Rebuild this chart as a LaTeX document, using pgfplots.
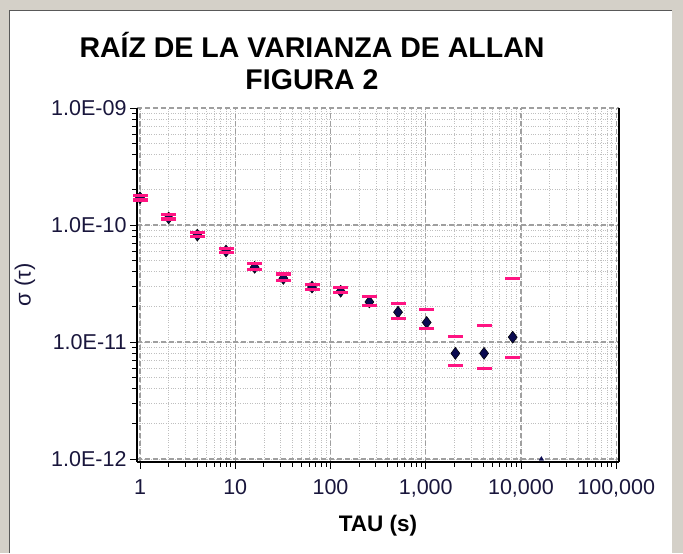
\documentclass[border=0pt]{standalone}
\usepackage{pgfplots}
\pgfplotsset{compat=1.18}
\usepackage{fontspec}
\setmainfont{Liberation Sans}
\definecolor{navy}{RGB}{10,10,80}
\definecolor{labcol}{RGB}{25,22,60}
\definecolor{pinkbar}{RGB}{255,20,130}
\definecolor{winbg}{RGB}{212,208,200}
\begin{document}
\begin{tikzpicture}
\fill[winbg] (0pt,0pt) rectangle (683pt,-553pt);
\fill[white] (9pt,-11pt) rectangle (672pt,-553pt);
\draw[gray!70!black,line width=1pt] (9pt,-553pt) -- (9pt,-11pt) -- (672pt,-11pt);
\path[use as bounding box] (0pt,0pt) rectangle (683pt,-553pt);
\node[font=\fontsize{28.5}{32}\selectfont\bfseries, align=center] at (312pt,-61pt) {RAÍZ DE LA VARIANZA DE ALLAN\\FIGURA 2};
\node[font=\fontsize{22}{24}\selectfont, rotate=90, text=labcol] at (25pt,-285pt) {σ (τ)};
\begin{axis}[
  name=ax,
  at={(137pt,-462pt)}, anchor=south west, scale only axis,
  width=482pt, height=354pt,
  xmode=log, ymode=log,
  xmin=0.93, xmax=107000, ymin=0.943e-12, ymax=1e-9,
  axis x line*=bottom, axis y line*=left,
  axis line style={black, line width=1.5pt, -},
  tick align=outside,
  major tick length=7pt, minor tick length=5pt,
  tick style={black, line width=0.9pt},
  xtick={1,10,100,1000,10000,100000},
  xticklabels={1,10,100,{1,000},{10,000},{100,000}},
  ytick={1e-12,1e-11,1e-10,1e-9},
  yticklabels={1.0E-12,1.0E-11,1.0E-10,1.0E-09},
  ticklabel style={font=\fontsize{21.5}{24}\selectfont, text=labcol},
  xticklabel style={yshift=-7pt},
  grid=both,
  major grid style={dash pattern=on 5pt off 3pt, gray!75, line width=1.3pt},
  minor grid style={dotted, gray!50, line width=0.8pt},
  xlabel={TAU (s)},
  xlabel style={font=\fontsize{22.5}{26}\selectfont\bfseries, yshift=-11pt},
]
\addplot[only marks, mark=diamond*, mark size=6pt, mark options={fill=navy, draw=black, line width=0.5pt}] table {
x y
1 1.71e-10
2 1.15e-10
4 8.2e-11
8 6.0e-11
16 4.35e-11
32 3.5e-11
64 2.95e-11
128 2.72e-11
256 2.2e-11
512 1.8e-11
1024 1.47e-11
2048 8.0e-12
4096 8.0e-12
8192 1.1e-11
};
\addplot[only marks, mark=triangle*, mark size=2.5pt, mark options={fill=navy, draw=navy}] table {
x y
16384 1.0e-12
};
\addplot[only marks, mark=-, mark size=7.5pt, mark options={draw=pinkbar, line width=3.5pt}] table {
x y
1 1.78e-10
2 1.225e-10
4 8.6e-11
8 6.28e-11
16 4.7e-11
32 3.8e-11
64 3.1e-11
128 2.92e-11
256 2.45e-11
512 2.13e-11
1024 1.90e-11
2048 1.12e-11
4096 1.39e-11
8192 3.48e-11
};
\addplot[only marks, mark=-, mark size=7.5pt, mark options={draw=pinkbar, line width=3.5pt}] table {
x y
1 1.64e-10
2 1.13e-10
4 7.95e-11
8 5.81e-11
16 4.16e-11
32 3.35e-11
64 2.81e-11
128 2.65e-11
256 2.05e-11
512 1.59e-11
1024 1.31e-11
2048 6.32e-12
4096 5.96e-12
8192 7.39e-12
};
\end{axis}
\draw[black, line width=1.5pt] (ax.south east) -- (ax.north east);
\end{tikzpicture}
\end{document}
